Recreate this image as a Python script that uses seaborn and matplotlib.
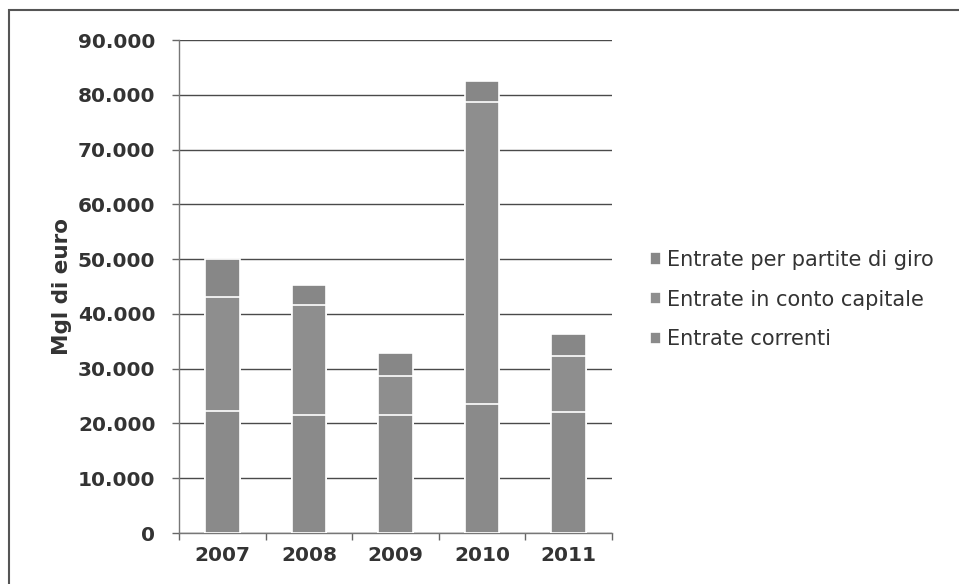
import matplotlib
matplotlib.use("Agg")
import matplotlib.pyplot as plt
import matplotlib.ticker as mticker
from matplotlib.patches import Rectangle
import numpy as np
import pandas as pd
import seaborn as sns

years = ["2007", "2008", "2009", "2010", "2011"]
entrate_correnti = [22200, 21600, 21500, 23600, 22100]
entrate_capitale = [20800, 20000, 7100, 55100, 10200]
entrate_giro = [7000, 3700, 4200, 3800, 4000]
series_labels = ["Entrate correnti", "Entrate in conto capitale",
                 "Entrate per partite di giro"]
y_ticks = [0, 10000, 20000, 30000, 40000, 50000, 60000, 70000, 80000, 90000]

sns.set_theme(style="white")
plt.rcParams["font.family"] = ["DejaVu Sans"]

df = pd.DataFrame({
    "anno": years,
    "correnti": entrate_correnti,
    "capitale": entrate_capitale,
    "giro": entrate_giro,
})
# cumulative heights for the stacked layers
df["lvl1"] = df["correnti"]
df["lvl2"] = df["lvl1"] + df["capitale"]
df["lvl3"] = df["lvl2"] + df["giro"]

fig = plt.figure(figsize=(9.59, 5.84), dpi=100)
ax = fig.add_axes([0.1867, 0.0873, 0.4515, 0.8442])

colors = {"lvl3": "#878787", "lvl2": "#8e8e8e", "lvl1": "#8a8a8a"}
labels = {"lvl3": series_labels[2], "lvl2": series_labels[1], "lvl1": series_labels[0]}
for lvl in ["lvl3", "lvl2", "lvl1"]:
    sns.barplot(data=df, x="anno", y=lvl, color=colors[lvl], width=0.40,
                edgecolor="white", linewidth=1.2, saturation=1,
                label=labels[lvl], ax=ax, zorder=3)

handles, lbls = ax.get_legend_handles_labels()
if ax.get_legend() is not None:
    ax.get_legend().remove()

ax.set_ylim(0, 90000)
ax.set_xlim(-0.5, 4.5)
ax.set_yticks(y_ticks)
ax.yaxis.set_major_formatter(mticker.FuncFormatter(
    lambda v, p: f"{int(v):,}".replace(",", ".")))
ax.yaxis.grid(True, color="#4a4a4a", linewidth=1.0, zorder=0)
ax.set_axisbelow(True)

# category boundary ticks on the x axis
ax.set_xticks(np.arange(-0.5, 5, 1.0), minor=False)
ax.set_xticklabels([])
ax.set_xticks(range(len(years)), minor=True)
ax.set_xticklabels(years, minor=True)
ax.tick_params(axis="x", which="major", direction="out", length=5, width=1,
               color="#666666", bottom=True)
ax.tick_params(axis="x", which="minor", length=0, pad=9,
               labelsize=14.5, labelcolor="#333333")
for t in ax.get_xticklabels(minor=True):
    t.set_fontweight("bold")
ax.tick_params(axis="y", direction="out", length=5, width=1, color="#666666",
               left=True, labelsize=14.5, labelcolor="#333333", pad=12)
for t in ax.get_yticklabels():
    t.set_fontweight("bold")

ax.set_xlabel("")
ax.set_ylabel("Mgl di euro", fontsize=15.5, fontweight="bold", color="#333333",
              labelpad=4)

for side in ["top", "right"]:
    ax.spines[side].set_visible(False)
for side in ["left", "bottom"]:
    ax.spines[side].set_color("#777777")
    ax.spines[side].set_linewidth(1.0)

leg = fig.legend(handles, lbls, loc="center left",
                 bbox_to_anchor=(0.669, 0.487), frameon=False,
                 fontsize=15, handlelength=0.55, handleheight=0.55,
                 handletextpad=0.25, labelspacing=0.95, borderaxespad=0)
for txt in leg.get_texts():
    txt.set_color("#333333")

# outer frame
fig.patches.append(Rectangle((9 / 959, -0.02), 1.05, 0.983 + 0.02,
                             transform=fig.transFigure, fill=False,
                             edgecolor="#555555", linewidth=1.5))

fig.savefig("out.png", dpi=100, facecolor="white")
